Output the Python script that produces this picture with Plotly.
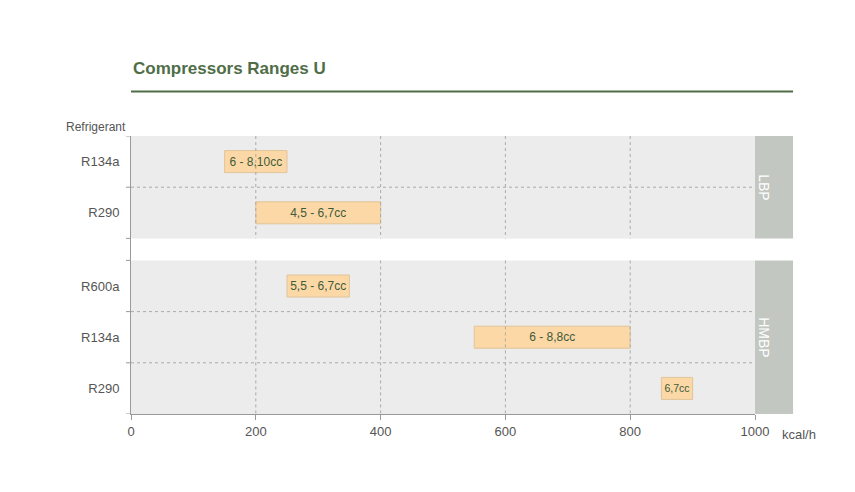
import plotly.graph_objs as go

# data
refrigerants = ['R134a', 'R290', 'R600a', 'R134a', 'R290']
groups = ['LBP', 'LBP', 'HMBP', 'HMBP', 'HMBP']
starts = [150, 200, 250, 550, 850]
ends = [250, 400, 350, 800, 900]
labels = ['6 - 8,10cc', '4,5 - 6,7cc', '5,5 - 6,7cc', '6 - 8,8cc', '6,7cc']
x_ticks = [0, 200, 400, 600, 800, 1000]

# row layout (y units, reversed axis): LBP 0..2, gap, HMBP 2.43..5.43
gap = 0.43
row_pos = [0.5, 1.5, 2.5 + gap, 3.5 + gap, 4.5 + gap]
panels = [('LBP', 0, 2), ('HMBP', 2 + gap, 5 + gap)]

green = '#4f6e48'
grey_txt = '#555555'

trace = go.Bar(
    y=row_pos, x=[e - s for s, e in zip(starts, ends)], base=starts,
    orientation='h', width=0.43,
    marker=dict(color='#fbd8a6', line=dict(color='#e0c49a', width=1)),
    text=labels, textposition='inside', insidetextanchor='middle',
    textfont=dict(color='#3f5a3a', size=12, family='Liberation Sans Narrow, Arial Narrow, Liberation Sans'),
    hoverinfo='skip',
)

shapes = []
ann = []
for name, y0, y1 in panels:
    shapes.append(dict(type='rect', xref='x', yref='y', x0=0, x1=1000, y0=y0, y1=y1,
                       fillcolor='#ececec', line=dict(width=0), layer='below'))
    shapes.append(dict(type='rect', xref='paper', yref='y', x0=1.0, x1=1.061, y0=y0, y1=y1,
                       fillcolor='#c3c7c2', line=dict(width=0), layer='below'))
    ann.append(dict(xref='paper', yref='y', x=1.0305, y=(y0 + y1) / 2, text=name,
                    textangle=90, showarrow=False,
                    font=dict(color='white', size=14, family='Liberation Sans Narrow, Liberation Sans')))
    # dotted row separators
    y = y0 + 1
    while y < y1 - 0.01:
        shapes.append(dict(type='line', xref='x', yref='y', x0=0, x1=1000, y0=y, y1=y,
                           line=dict(color='#aaaaaa', width=1, dash='dot')))
        y += 1
# dotted vertical grid
for xv in x_ticks[1:-1]:
    for name, y0, y1 in panels:
        shapes.append(dict(type='line', xref='x', yref='y', x0=xv, x1=xv, y0=y0, y1=y1,
                           line=dict(color='#aaaaaa', width=1, dash='dot')))
# left axis ticks at row boundaries
for yb in [0, 1, 2, 2 + gap, 3 + gap, 4 + gap, 5 + gap]:
    shapes.append(dict(type='line', xref='paper', yref='y', x0=-0.008, x1=0, y0=yb, y1=yb,
                       line=dict(color='#999999', width=1)))
# title underline
shapes.append(dict(type='line', xref='paper', yref='paper', x0=0, x1=1.061, y0=1.16, y1=1.16,
                   line=dict(color=green, width=2)))

ann.append(dict(xref='paper', yref='paper', x=0, y=1.2, xanchor='left', yanchor='bottom',
                text='<b>Compressors Ranges U</b>', showarrow=False,
                font=dict(color=green, size=17, family='Liberation Sans Narrow, Liberation Sans')))
ann.append(dict(xref='paper', yref='paper', x=-0.005, y=1.0, xanchor='right', yanchor='bottom',
                text='Refrigerant', showarrow=False,
                font=dict(color=grey_txt, size=12, family='Liberation Sans Narrow, Liberation Sans')))
ann.append(dict(xref='paper', yref='paper', x=1.04, y=-0.04, xanchor='left', yanchor='top',
                text='kcal/h', showarrow=False,
                font=dict(color=grey_txt, size=13, family='Liberation Sans Narrow, Liberation Sans')))

layout = dict(
    width=855, height=492, plot_bgcolor='white', paper_bgcolor='white',
    margin=dict(l=123, r=108, t=128, b=86),
    showlegend=False, shapes=shapes, annotations=ann,
    font=dict(family='Liberation Sans Narrow, Liberation Sans', color=grey_txt, size=13),
    xaxis=dict(range=[0, 1000], tickvals=x_ticks, showgrid=False, zeroline=False,
               showline=True, linecolor='#999999', ticks='outside', ticklen=5,
               tickcolor='#999999'),
    yaxis=dict(range=[5 + gap, 0], tickvals=row_pos, ticktext=refrigerants,
               showgrid=False, zeroline=False, showline=True, linecolor='#999999',
               ticks='', ticklabelstandoff=8),
)

fig = go.Figure(data=[trace], layout=layout)
fig.write_html('out.html')
